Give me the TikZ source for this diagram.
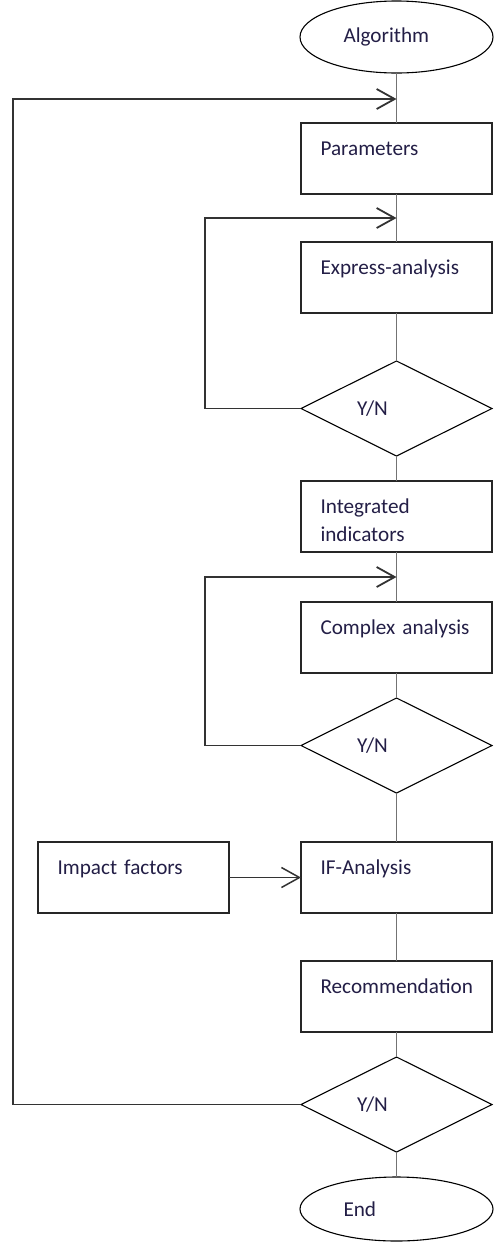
\documentclass[tikz,border=0pt]{standalone}
\usepackage{fontspec}
\setmainfont{Carlito}
\usetikzlibrary{shapes.geometric,positioning,arrows.meta}
\definecolor{ink}{RGB}{35,30,70}

\tikzset{
  every node/.style={outer sep=0pt},
  block/.style={draw=black!85,line width=1.6pt,rectangle,minimum height=71pt,
    text width=152pt,inner xsep=19.5pt,align=left,text height=14pt,text depth=20pt},
  terminal/.style={draw,line width=1.1pt,ellipse,minimum width=193pt,minimum height=72pt,
    text width=106pt,inner sep=0pt,align=left},
  decision/.style={draw,line width=1.1pt,diamond,aspect=2,minimum width=191pt,
    minimum height=95pt,text width=79pt,inner sep=0pt,align=left},
  link/.style={draw=black!55,line width=1.6pt},
  back/.style={draw=black!80,line width=1.8pt,-{Straight Barb[length=18pt,width=20pt]}}
}

\begin{document}
\begin{tikzpicture}[font=\fontsize{21.2pt}{27.5pt}\selectfont,text=ink,node distance=48pt]
  \useasboundingbox (0,0) rectangle (497pt,-1243pt);
  \node[terminal] (start) at (396.5pt,-37pt) {Algorithm};
  \node[block] (par) [below=50pt of start] {Parameters};
  \node[block] (expr) [below=of par] {Express-analysis};
  \node[decision] (dec1) [below=of expr] {Y/N};
  \node[block] (integ) [below=25pt of dec1] {Integrated\\indicators};
  \node[block] (compl) [below=50pt of integ] {Complex analysis};
  \node[decision] (dec2) [below=25pt of compl] {Y/N};
  \node[block] (ifa) [below=49pt of dec2] {IF-Analysis};
  \node[block] (impact) [left=72pt of ifa] {Impact factors};
  \node[block] (rec) [below=of ifa] {Recommendation};
  \node[decision] (dec3) [below=25pt of rec] {Y/N};
  \node[terminal,minimum height=64pt] (stop) [below=25pt of dec3] {End};

  % where the loops come back in
  \coordinate[above=24pt of par] (j1);
  \coordinate[below=24pt of par] (j2);
  \coordinate[below=25pt of integ] (j3);
  \coordinate (x0) at (13pt,0);
  \coordinate (x1) at (205pt,0);

  \draw[link] (start) -- (par) -- (expr) -- (dec1) -- (integ) -- (compl)
    -- (dec2) -- (ifa) -- (rec) -- (dec3) -- (stop);
  \draw[back] (dec1.west) -- (dec1.west -| x1) |- (j2);
  \draw[back] (dec2.west) -- (dec2.west -| x1) |- (j3);
  \draw[back] (dec3.west) -- (dec3.west -| x0) |- (j1);
  \draw[back,line width=1.5pt] (impact) -- (ifa);
\end{tikzpicture}
\end{document}
